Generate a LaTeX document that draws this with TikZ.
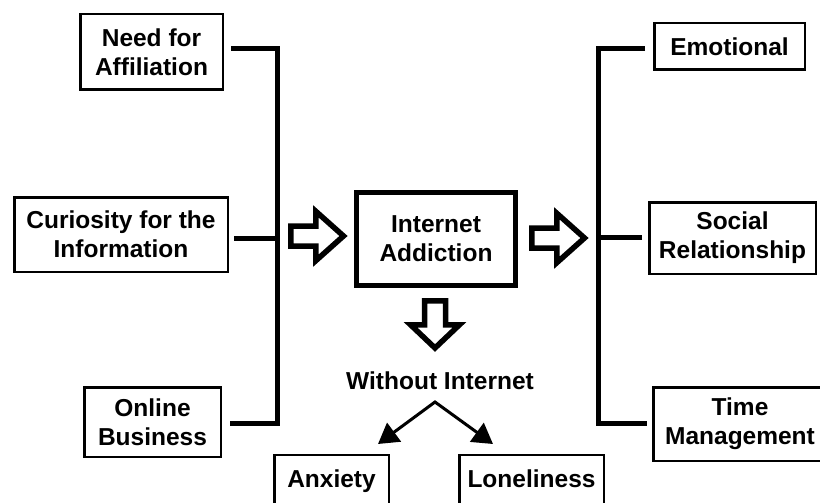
\documentclass[tikz,border=0pt]{standalone}
\usepackage{fontspec}
\setmainfont{Liberation Sans}
\usetikzlibrary{arrows.meta,calc}
\begin{document}
\begin{tikzpicture}[x=1pt,y=-1pt,
  txt/.style={font=\bfseries\fontsize{24.5}{29}\selectfont},
  box/.style={txt, draw, line width=2.5pt, align=center, inner sep=0pt},
  thickbox/.style={box, line width=5pt},
  bar/.style={line width=5pt, line join=miter, line cap=butt},
  hollow/.style={draw, line width=5.5pt, line join=miter, fill=white},
  arr/.style={line width=3pt, line join=miter, {Triangle[length=20pt,width=23pt]}-{Triangle[length=20pt,width=23pt]}}
]
\useasboundingbox (0,0) rectangle (820,503);
\clip (0,0) rectangle (820,503);
% left column
\node[box, minimum width=142.5pt, minimum height=75.5pt] (naff) at (151.5,52) {Need for\\Affiliation};
\node[box, minimum width=213.5pt, minimum height=74.5pt] (cur) at (121,234.5) {Curiosity for the\\Information};
\node[box, minimum width=136.5pt, minimum height=69.5pt] (onl) at (152.5,422) {Online\\Business};
% centre
\node[thickbox, minimum width=159pt, minimum height=93pt] (ia) at (436,239) {Internet\\Addiction};
\node[txt] (wi) at (440,381) {Without Internet};
\node[box, text height=18pt, text depth=6pt, minimum width=114.5pt, minimum height=52pt] (anx) at (331.5,481) {Anxiety};
\node[box, text height=18pt, text depth=6pt, minimum width=144.5pt, minimum height=52pt] (lon) at (531.5,481) {Loneliness};
% right column
\node[box, minimum width=150.5pt, minimum height=46.5pt] (emo) at (729.5,46.5) {Emotional};
\node[box, minimum width=166.5pt, minimum height=71.5pt] (soc) at (732.5,238) {Social\\Relationship};
\node[box, minimum width=173.5pt, minimum height=73.5pt] (tim) at (740,424) {Time\\Management};
% left bracket
\coordinate (lt) at (277,49);
\coordinate (lm) at (277,238);
\coordinate (lb) at (277,423);
\draw[bar] ($(naff.east|-lt)+(7,0)$) -- (lt) -- (lb) -- ($(onl.east|-lb)+(8,0)$);
\draw[bar] ($(cur.east|-lm)+(5,0)$) -- (lm);
% right bracket
\coordinate (rt) at (598,49);
\coordinate (rm) at (598,237);
\coordinate (rb) at (598,423);
\draw[bar] ($(emo.west|-rt)+(-8,0)$) -- (rt) -- (rb) -- ($(tim.west|-rb)+(-5,0)$);
\draw[bar] ($(soc.west|-rm)+(-6,0)$) -- (rm);
% hollow block arrows
\draw[hollow, shift={(288,236)}] (2.75,-10) -- (27.75,-10) -- (27.75,-24.75) -- (55.5,0) -- (27.75,24.75) -- (27.75,10) -- (2.75,10) -- cycle;
\draw[hollow, shift={(529,238)}] (2.75,-10) -- (27.75,-10) -- (27.75,-24.75) -- (55.5,0) -- (27.75,24.75) -- (27.75,10) -- (2.75,10) -- cycle;
\draw[hollow] (424.5,300.75) -- (445.5,300.75) -- (445.5,324.75) -- (459.5,324.75) -- (435,348) -- (410.5,324.75) -- (424.5,324.75) -- cycle;
% branch arrows
\coordinate (apex) at (435,402);
\coordinate (ta) at (378,444);
\coordinate (tl) at (493,444);
\draw[arr] (ta) -- (apex) -- (tl);
\end{tikzpicture}
\end{document}
